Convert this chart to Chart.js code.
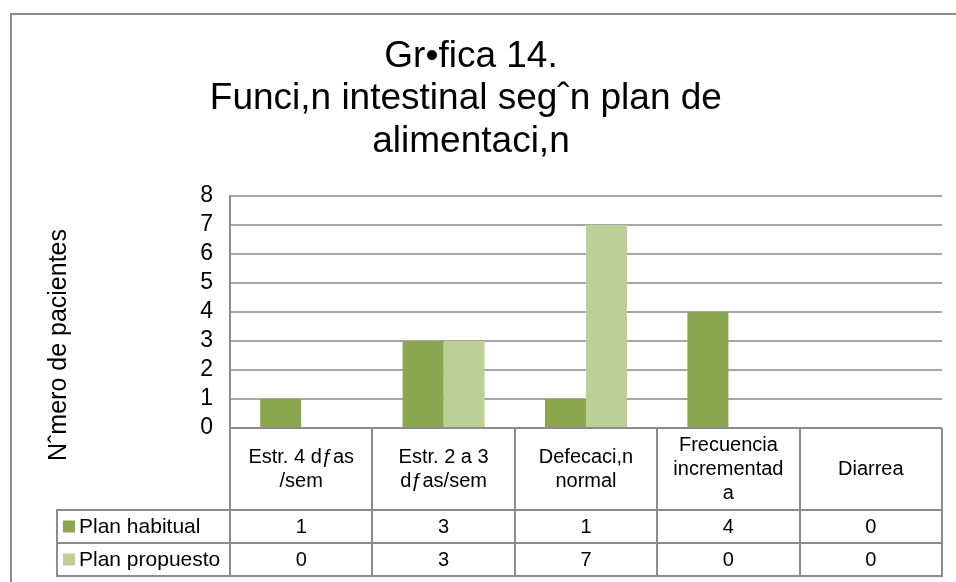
<!DOCTYPE html>
<html>
<head>
<meta charset="utf-8">
<script src="https://cdn.jsdelivr.net/npm/chart.js@4.4.0/dist/chart.umd.min.js"></script>
<style>
  html, body { margin: 0; padding: 0; background: #fff; }
  #wrap { width: 956px; height: 582px; }
</style>
</head>
<body>
<div id="wrap"><canvas id="myChart" width="956" height="582"></canvas></div>
<script>
const titleLines = ['Gr•fica 14.', 'Funci,n intestinal segˆn plan de ', 'alimentaci,n'];
const yAxisTitle = 'Nˆmero de pacientes';
const categories = [
  ['Estr. 4 dƒas', '/sem'],
  ['Estr. 2 a 3', 'dƒas/sem'],
  ['Defecaci,n', 'normal'],
  ['Frecuencia', 'incrementad', 'a'],
  ['Diarrea']
];
const seriesNames = ['Plan habitual', 'Plan propuesto'];
const planHabitual = [1, 3, 1, 4, 0];
const planPropuesto = [0, 3, 7, 0, 0];
const yMin = 0;
const yMax = 8;
const yStep = 1;

const FONT = "'Liberation Sans', Arial, sans-serif";
const colors = ['#8AA64E', '#BBCF97'];
const borderGrey = '#8C8C8C';
const gridGrey = '#A6A6A6';

// data table under the plot, drawn from the same arrays and the x scale
const dataTable = {
  id: 'dataTable',
  afterDraw(chart) {
    const ctx = chart.ctx;
    const area = chart.chartArea;
    const xs = chart.scales.x;
    const half = (xs.getPixelForValue(1) - xs.getPixelForValue(0)) / 2;
    const headTop = area.bottom;
    const headBottom = headTop + 82;
    const rowH = 33;
    const labelLeft = 57;
    const rows = [planHabitual, planPropuesto];
    const tableBottom = headBottom + rowH * rows.length;

    ctx.save();
    ctx.strokeStyle = borderGrey;
    ctx.lineWidth = 2;

    // vertical lines
    for (let i = 0; i <= categories.length; i++) {
      const x = Math.round(xs.getPixelForValue(i) - half);
      ctx.beginPath();
      ctx.moveTo(x, headTop);
      ctx.lineTo(x, tableBottom);
      ctx.stroke();
    }
    ctx.beginPath();
    ctx.moveTo(labelLeft, headBottom);
    ctx.lineTo(labelLeft, tableBottom);
    ctx.stroke();

    // horizontal lines
    for (let r = 0; r <= rows.length; r++) {
      const y = headBottom + r * rowH;
      ctx.beginPath();
      ctx.moveTo(labelLeft - 1, y);
      ctx.lineTo(area.right + 1, y);
      ctx.stroke();
    }

    ctx.fillStyle = '#000';
    ctx.font = '20px ' + FONT;
    ctx.textAlign = 'center';
    ctx.textBaseline = 'middle';

    // header cells
    const headMid = (headTop + headBottom) / 2;
    categories.forEach((lines, i) => {
      const cx = xs.getPixelForValue(i);
      const lh = 24;
      const y0 = headMid - (lines.length - 1) * lh / 2;
      lines.forEach((t, k) => ctx.fillText(t, cx, y0 + k * lh));
    });

    // value cells
    rows.forEach((vals, r) => {
      const cy = headBottom + r * rowH + rowH / 2;
      vals.forEach((v, i) => ctx.fillText(String(v), xs.getPixelForValue(i), cy + 1));
    });

    // row labels with legend keys
    ctx.textAlign = 'left';
    ctx.font = '21px ' + FONT;
    seriesNames.forEach((name, r) => {
      const cy = headBottom + r * rowH + rowH / 2;
      ctx.fillStyle = colors[r];
      ctx.fillRect(labelLeft + 6, cy - 6, 12, 12);
      ctx.fillStyle = '#000';
      ctx.fillText(name, labelLeft + 22, cy + 1);
    });

    // y axis title
    ctx.save();
    ctx.translate(59, 345);
    ctx.rotate(-Math.PI / 2);
    ctx.textAlign = 'center';
    ctx.font = '25px ' + FONT;
    ctx.fillText(yAxisTitle, 0, 0);
    ctx.restore();

    // outer frame
    ctx.strokeStyle = borderGrey;
    ctx.lineWidth = 2;
    ctx.strokeRect(11, 14, 980, 620);
    ctx.restore();
  }
};

const ctx = document.getElementById('myChart').getContext('2d');
new Chart(ctx, {
  type: 'bar',
  data: {
    labels: categories,
    datasets: [
      {
        label: seriesNames[0],
        data: planHabitual,
        backgroundColor: colors[0],
        borderWidth: 0,
        barPercentage: 1,
        categoryPercentage: 0.576
      },
      {
        label: seriesNames[1],
        data: planPropuesto,
        backgroundColor: colors[1],
        borderWidth: 0,
        barPercentage: 1,
        categoryPercentage: 0.576
      }
    ]
  },
  options: {
    responsive: false,
    animation: false,
    layout: {
      padding: { left: 0, right: 14, top: 0, bottom: 154 }
    },
    scales: {
      x: {
        display: false
      },
      y: {
        min: yMin,
        max: yMax,
        afterFit(scale) { scale.width = 230; },
        grid: {
          drawTicks: false,
          lineWidth: 2,
          color: (c) => (c.tick && c.tick.value === 0 ? borderGrey : gridGrey)
        },
        border: { display: true, color: borderGrey, width: 2 },
        ticks: {
          stepSize: yStep,
          autoSkip: false,
          padding: 17,
          color: '#000',
          font: { family: FONT, size: 23, lineHeight: 1 }
        }
      }
    },
    plugins: {
      legend: { display: false },
      tooltip: { enabled: false },
      title: {
        display: true,
        text: titleLines,
        color: '#000',
        font: { family: FONT, size: 37, weight: 'normal', lineHeight: 1.14 },
        padding: { top: 36, bottom: 33.6 }
      }
    }
  },
  plugins: [dataTable]
});
</script>
</body>
</html>
